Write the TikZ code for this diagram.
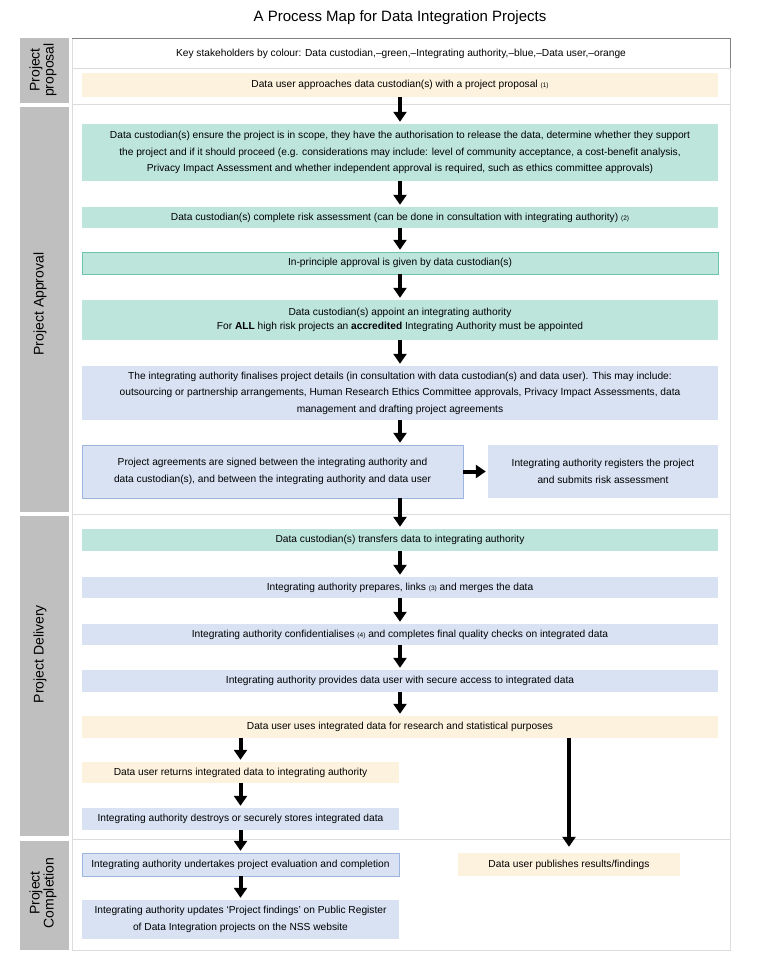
\documentclass[tikz,border=0pt]{standalone}
\usepackage{fontspec}
\setmainfont{Liberation Sans}
\usetikzlibrary{arrows.meta}
\definecolor{custgreen}{HTML}{BDE5DC}
\definecolor{custgreenline}{HTML}{6CC3AE}
\definecolor{authblue}{HTML}{D8E2F3}
\definecolor{authblueline}{HTML}{9CB6E0}
\definecolor{userorange}{HTML}{FDF2DE}
\definecolor{stagegray}{HTML}{BFBFBF}
\definecolor{framegray}{HTML}{DCDCDC}
\newcommand{\smallref}[1]{{\fontsize{6.5}{7}\selectfont(#1)}}
\tikzset{
  box/.style={inner sep=0pt, align=center, font=\fontsize{10.2}{16.5}\selectfont, minimum width=636pt},
  greenbox/.style={box, fill=custgreen},
  bluebox/.style={box, fill=authblue},
  orangebox/.style={box, fill=userorange},
  halfbox/.style={minimum width=317pt},
  stage/.style={rotate=90, align=center, font=\fontsize{14}{14}\selectfont},
  flow/.style={line width=4pt, -{Triangle[width=13pt,length=10pt]}, shorten >=2pt},
}
\begin{document}
\begin{tikzpicture}[x=1pt,y=-1pt]
\useasboundingbox (0,0) rectangle (759,973);
\node[font=\fontsize{15}{17}\selectfont] (title) at (400,18) {A Process Map for Data Integration Projects};
\fill[stagegray] (20,38) rectangle (69,103);
\fill[stagegray] (20,107) rectangle (69,512);
\fill[stagegray] (20,516) rectangle (69,836);
\fill[stagegray] (20,841) rectangle (69,950);
\node[stage] (lblproposal) at (43,70) {Project\\proposal};
\node[stage] (lblapproval) at (40,304) {Project Approval};
\node[stage] (lbldelivery) at (40,654) {Project Delivery};
\node[stage] (lblcompletion) at (43,893) {Project\\Completion};
\draw[framegray] (72,38) rectangle (730,950);
\draw[framegray] (72,68) -- (730,68) (72,104) -- (730,104) (72,514) -- (730,514) (72,839) -- (730,839);
\draw[gray] (72,38) -- (730,38) -- (730,68);
\node[box, minimum width=658pt] (key) at (401,54) {Key stakeholders by colour: Data custodian,–green,–Integrating authority,–blue,–Data user,–orange};
\node[orangebox, minimum height=24pt] (approach) at (400,85) {Data user approaches data custodian(s) with a project proposal \smallref{1}};
\node[greenbox, minimum height=57pt] (scope) at (400,152.5) {Data custodian(s) ensure the project is in scope, they have the authorisation to release the data, determine whether they support\\the project and if it should proceed (e.g. considerations may include: level of community acceptance, a cost-benefit analysis,\\Privacy Impact Assessment and whether independent approval is required, such as ethics committee approvals)};
\node[greenbox, minimum height=21pt] (risk) at (400,217.5) {Data custodian(s) complete risk assessment (can be done in consultation with integrating authority) \smallref{2}};
\node[greenbox, draw=custgreenline, minimum height=22pt] (principle) at (400,263) {In-principle approval is given by data custodian(s)};
\node[greenbox, minimum height=40pt, font=\fontsize{10.2}{14}\selectfont] (appoint) at (400,320) {Data custodian(s) appoint an integrating authority\\For \textbf{ALL} high risk projects an \textbf{accredited} Integrating Authority must be appointed};
\node[bluebox, minimum height=54pt] (finalise) at (400,393) {The integrating authority finalises project details (in consultation with data custodian(s) and data user). This may include:\\outsourcing or partnership arrangements, Human Research Ethics Committee approvals, Privacy Impact Assessments, data\\management and drafting project agreements};
\node[bluebox, draw=authblueline, minimum width=381pt, minimum height=53pt] (agree) at (272.5,471.5) {Project agreements are signed between the integrating authority and\\data custodian(s), and between the integrating authority and data user};
\node[bluebox, minimum width=230pt, minimum height=53pt] (register) at (603,471.5) {Integrating authority registers the project\\and submits risk assessment};
\node[greenbox, minimum height=22pt] (transfer) at (400,540) {Data custodian(s) transfers data to integrating authority};
\node[bluebox, minimum height=21pt] (prepare) at (400,587.5) {Integrating authority prepares, links \smallref{3} and merges the data};
\node[bluebox, minimum height=21pt] (confid) at (400,634.5) {Integrating authority confidentialises \smallref{4} and completes final quality checks on integrated data};
\node[bluebox, minimum height=22pt] (provide) at (400,681) {Integrating authority provides data user with secure access to integrated data};
\node[orangebox, minimum height=22pt] (uses) at (400,727) {Data user uses integrated data for research and statistical purposes};
\node[orangebox, halfbox, minimum height=21pt] (returns) at (240.5,772.5) {Data user returns integrated data to integrating authority};
\node[bluebox, halfbox, minimum height=22pt] (destroy) at (240.5,819) {Integrating authority destroys or securely stores integrated data};
\node[bluebox, halfbox, draw=authblueline, minimum height=23pt] (evaluate) at (240.5,864.5) {Integrating authority undertakes project evaluation and completion};
\node[bluebox, halfbox, minimum height=39pt] (update) at (240.5,919.5) {Integrating authority updates ‘Project findings’ on Public Register\\of Data Integration projects on the NSS website};
\node[orangebox, minimum width=222pt, minimum height=23pt] (publish) at (569,864.5) {Data user publishes results/findings};
\draw[flow] (approach) -- (scope);
\draw[flow] (scope) -- (risk);
\draw[flow] (risk) -- (principle);
\draw[flow] (principle) -- (appoint);
\draw[flow] (appoint) -- (finalise);
\draw[flow] (finalise.south) -- (finalise.south |- agree.north);
\draw[flow] (agree) -- (register);
\draw[flow] (agree.south -| transfer.north) -- (transfer.north);
\draw[flow] (transfer) -- (prepare);
\draw[flow] (prepare) -- (confid);
\draw[flow] (confid) -- (provide);
\draw[flow] (provide) -- (uses);
\draw[flow] (uses.south -| returns.north) -- (returns.north);
\draw[flow] (returns) -- (destroy);
\draw[flow] (destroy) -- (evaluate);
\draw[flow] (evaluate) -- (update);
\draw[flow, shorten >=6pt] (uses.south -| publish.north) -- (publish.north);
\end{tikzpicture}
\end{document}
